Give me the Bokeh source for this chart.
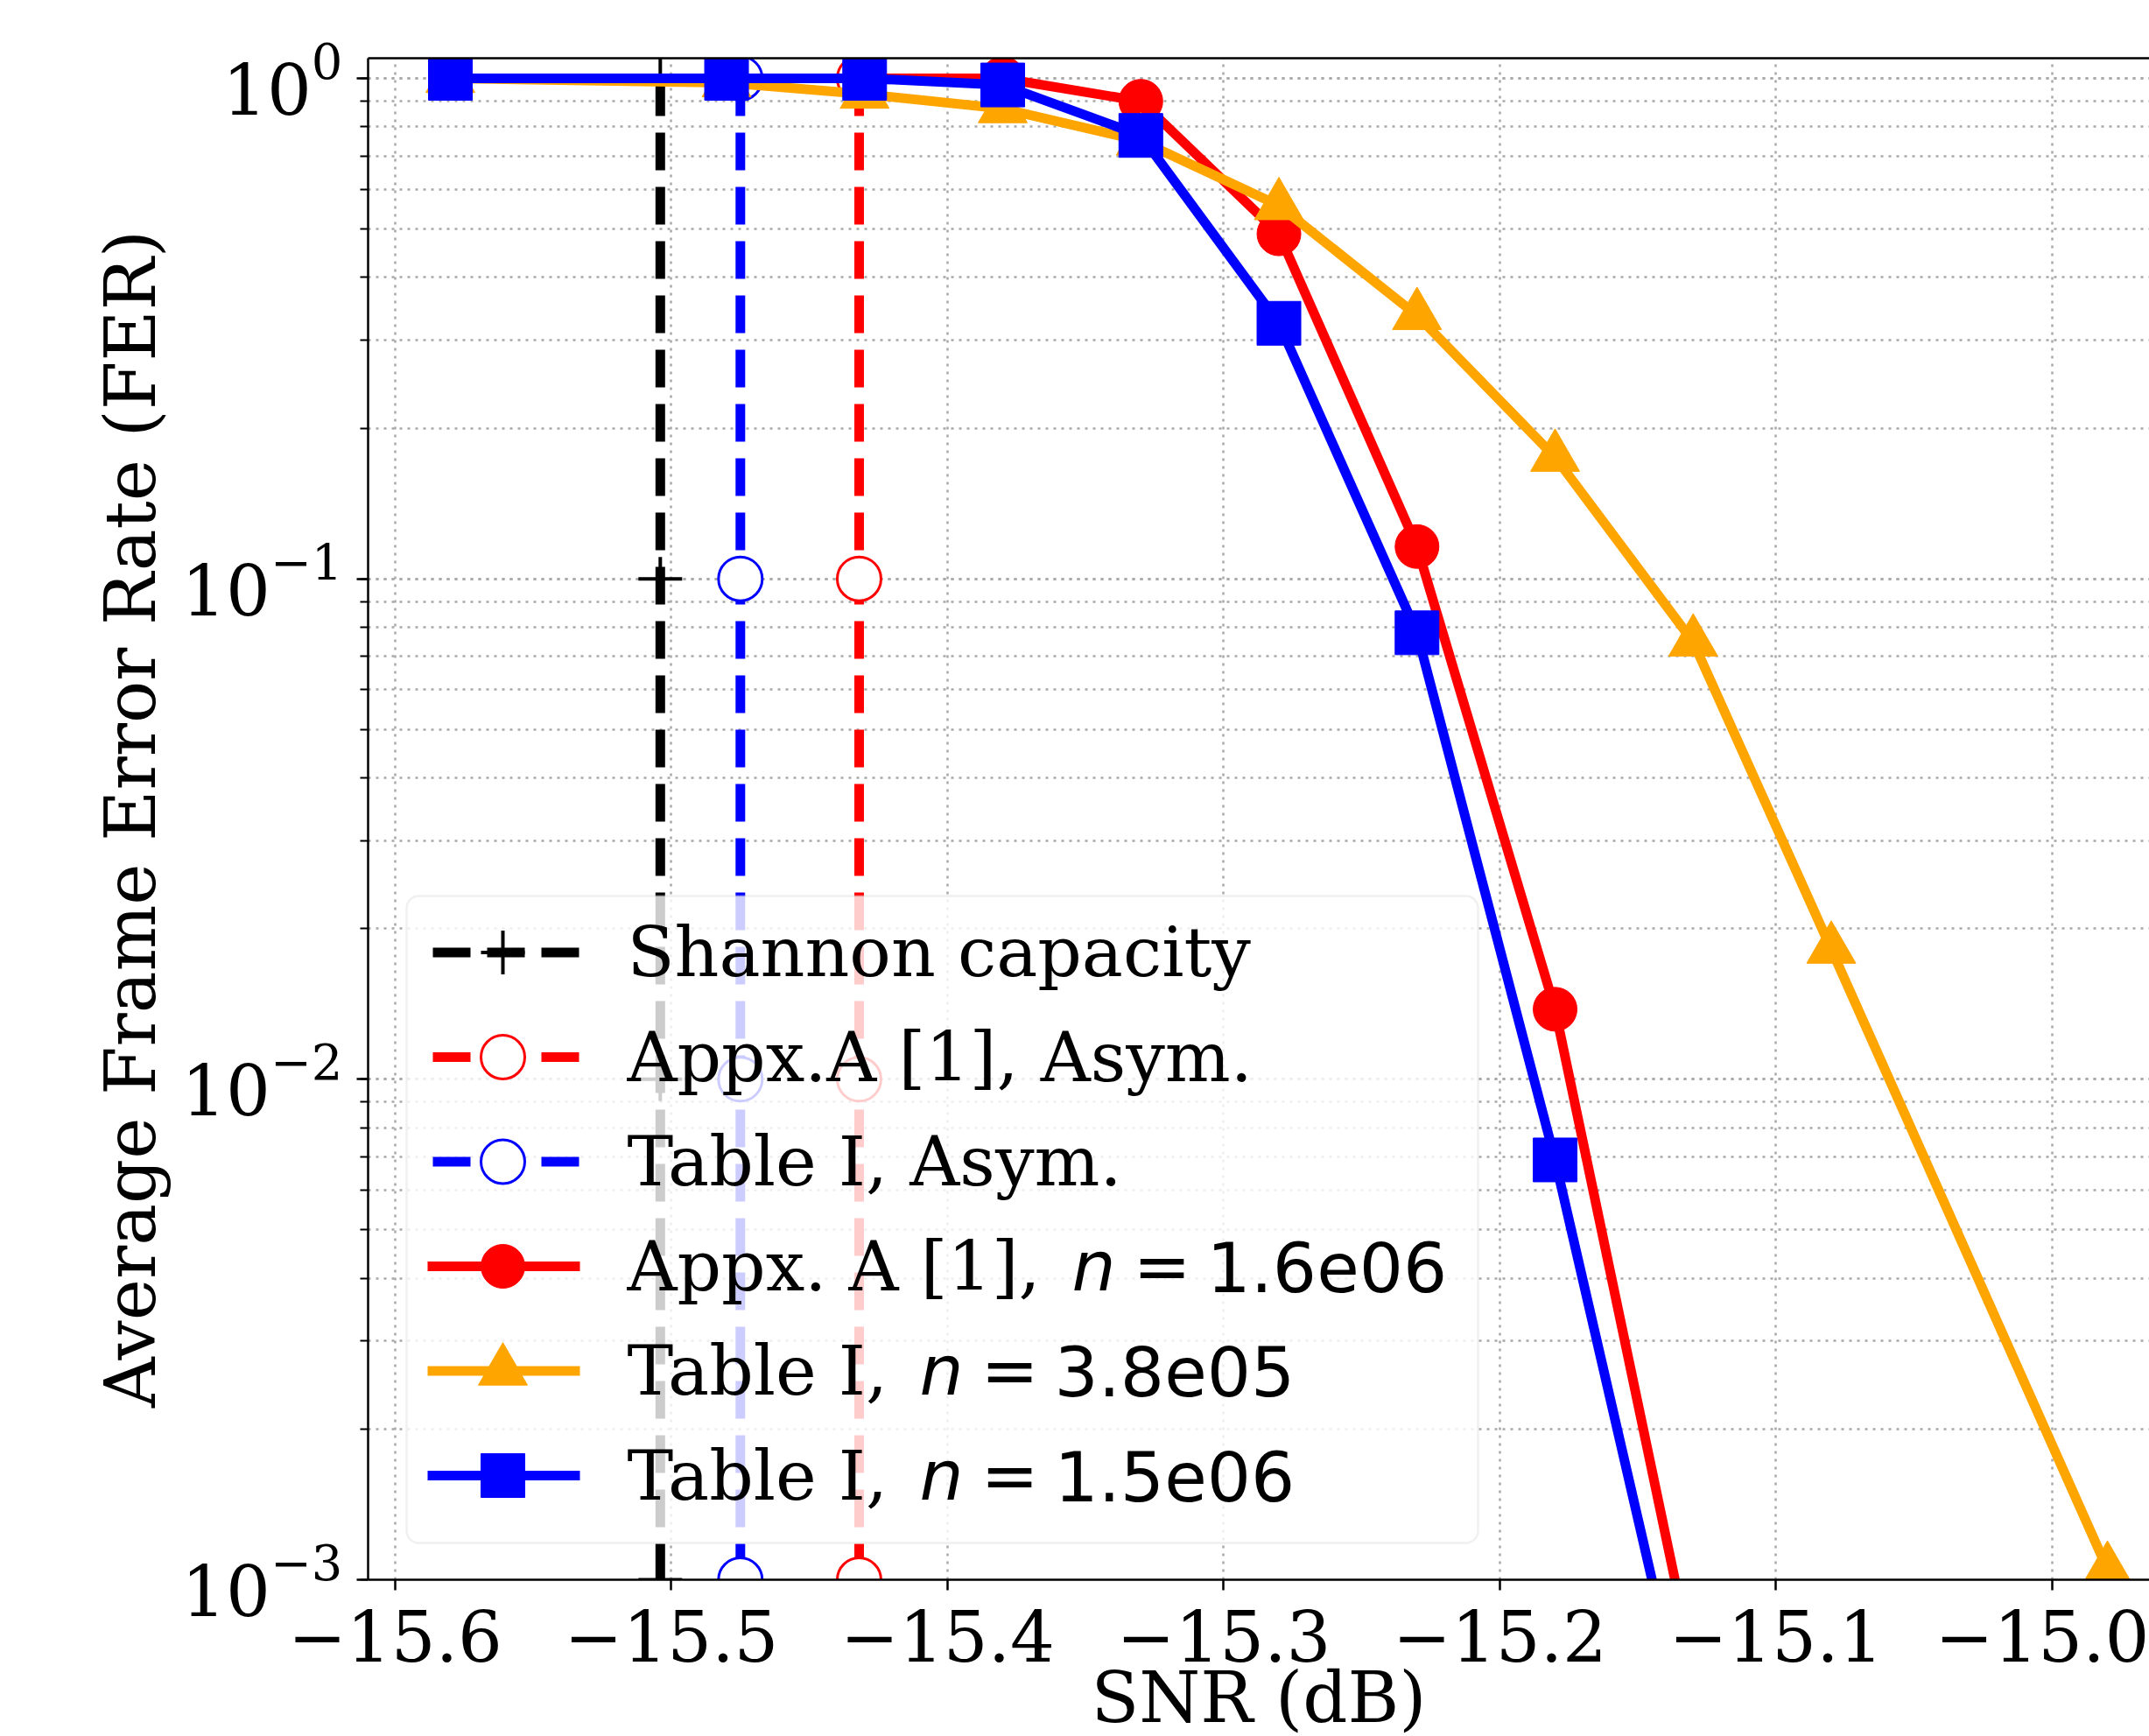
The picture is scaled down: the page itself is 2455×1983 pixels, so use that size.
from bokeh.plotting import figure
from bokeh.models import (Range1d, LinearAxis, FixedTicker, LogTicker, LinearScale,
                          CustomJSTickFormatter, LogTickFormatter, BoxAnnotation)
from bokeh.core.properties import value
from bokeh.embed import file_html
from bokeh.resources import INLINE
try:
    from bokeh.models import GlobalInlineStyleSheet
except Exception:  # pragma: no cover
    GlobalInlineStyleSheet = None

# ---------------- data ----------------
snr = [-15.58, -15.48, -15.43, -15.38, -15.33, -15.28, -15.23, -15.18, -15.13]
fer_appxA_n16e6 = [1.0, 1.0, 1.0, 1.0, 0.90, 0.489, 0.116, 0.0138, 6.7e-4]
fer_tableI_n15e6 = [1.0, 1.0, 1.0, 0.97, 0.769, 0.324, 0.078, 0.0069, 4.4e-4]
snr_n38e5 = [-15.58, -15.48, -15.43, -15.38, -15.33, -15.28, -15.23, -15.18,
             -15.13, -15.08, -14.98]
fer_tableI_n38e5 = [1.0, 0.98, 0.93, 0.87, 0.75, 0.557, 0.336, 0.175,
                    0.0748, 0.0182, 1.05e-3]

shannon_snr = -15.504
appxA_asym_snr = -15.432
tableI_asym_snr = -15.475
vline_fer = [1.0, 0.1, 0.01, 0.001]

x_ticks = [-15.6, -15.5, -15.4, -15.3, -15.2, -15.1, -15.0]
x_start, x_end = -15.6098, -14.9648
y_start, y_end = 1e-3, 1.097

x_label = "SNR (dB)"
y_label = "Average Frame Error Rate (FER)"

legend_rows = [
    [("Shannon capacity", "DejaVu Serif", "normal", 0)],
    [("Appx.A [1], Asym.", "DejaVu Serif", "normal", 0)],
    [("Table I, Asym.", "DejaVu Serif", "normal", 0)],
    [("Appx. A [1], ", "DejaVu Serif", "normal", 0),
     ("n", "DejaVu Sans", "italic", 508), ("=", "DejaVu Sans", "normal", 578),
     ("1.6e06", "DejaVu Sans", "normal", 662)],
    [("Table I, ", "DejaVu Serif", "normal", 0),
     ("n", "DejaVu Sans", "italic", 334), ("=", "DejaVu Sans", "normal", 404),
     ("3.8e05", "DejaVu Sans", "normal", 488)],
    [("Table I, ", "DejaVu Serif", "normal", 0),
     ("n", "DejaVu Sans", "italic", 334), ("=", "DejaVu Sans", "normal", 404),
     ("1.5e06", "DejaVu Sans", "normal", 488)],
]

# ---------------- figure ----------------
FONT = "DejaVu Serif"
FS = "80px"
GRID = "#a8a8a8"

# The original chart is cropped at the right and bottom edges of the picture;
# the canvas is a little taller than the window and the page does not scroll.
p = figure(width=2455, height=2016, x_range=Range1d(x_start, x_end),
           y_range=Range1d(y_start, y_end), y_axis_type="log",
           output_backend="svg", toolbar_location=None,
           min_border_left=420, min_border_right=0, min_border_top=66,
           min_border_bottom=212)
if GlobalInlineStyleSheet is not None:
    p.stylesheets = [GlobalInlineStyleSheet(
        css="html, body { overflow: hidden !important; }")]
p.outline_line_color = None
p.background_fill_color = "white"

# pixel-like helper ranges for the legend box (image pixel coordinates)
p.extra_x_ranges = {"px": Range1d(420, 2455)}
p.extra_y_ranges = {"px": Range1d(1804, 66)}
p.extra_x_scales = {"px": LinearScale()}
p.extra_y_scales = {"px": LinearScale()}

xa = p.xaxis[0]
xa.ticker = FixedTicker(ticks=x_ticks)
xa.formatter = CustomJSTickFormatter(
    code="return (tick < 0 ? '\u2212' : '') + Math.abs(tick).toFixed(1);")
ya = p.yaxis[0]
ya.ticker = LogTicker(num_minor_ticks=10)
ya.formatter = LogTickFormatter()

for ax in (xa, ya):
    ax.axis_line_width = 2.5
    ax.axis_line_color = "black"
    ax.major_tick_line_width = 2.5
    ax.minor_tick_line_width = 2
    ax.major_tick_in = 0
    ax.minor_tick_in = 0
    ax.major_label_text_font = FONT
    ax.major_label_text_font_size = FS
    ax.major_label_text_color = "black"
    ax.axis_label_text_font = FONT
    ax.axis_label_text_font_size = FS
    ax.axis_label_text_font_style = "normal"
    ax.axis_label_text_color = "black"

xa.axis_label = x_label
xa.major_tick_out = 12
xa.minor_tick_line_color = None
xa.major_label_standoff = 22
xa.axis_label_standoff = -8

ya.axis_label = y_label
ya.major_tick_out = 13
ya.minor_tick_out = 9
ya.major_label_standoff = 16
ya.axis_label_standoff = 8

top = LinearAxis(ticker=FixedTicker(ticks=[]), axis_line_width=2.5,
                 axis_line_color="black", major_label_text_font_size="0px")
p.add_layout(top, "above")

p.xgrid[0].ticker = FixedTicker(ticks=x_ticks)
for g in (p.xgrid[0], p.ygrid[0]):
    g.grid_line_color = GRID
    g.grid_line_dash = "3 6"
    g.grid_line_width = 2.5
p.ygrid[0].minor_grid_line_color = GRID
p.ygrid[0].minor_grid_line_dash = "3 6"
p.ygrid[0].minor_grid_line_width = 2.5

LW = 11
DASH = "43 19"
MS = 50

# Shannon capacity
p.line([shannon_snr] * len(vline_fer), vline_fer, line_color="black",
       line_width=LW, line_dash=DASH)
p.scatter([shannon_snr] * len(vline_fer), vline_fer, marker="cross", size=MS,
          line_color="black", line_width=4)
# Appx.A asym
p.line([appxA_asym_snr] * len(vline_fer), vline_fer, line_color="red",
       line_width=LW, line_dash=DASH)
p.scatter([appxA_asym_snr] * len(vline_fer), vline_fer, marker="circle",
          size=MS, fill_color="white", line_color="red", line_width=3)
# Table I asym
p.line([tableI_asym_snr] * len(vline_fer), vline_fer, line_color="blue",
       line_width=LW, line_dash=DASH)
p.scatter([tableI_asym_snr] * len(vline_fer), vline_fer, marker="circle",
          size=MS, fill_color="white", line_color="blue", line_width=3)
# Appx. A n=1.6e06
p.line(snr, fer_appxA_n16e6, line_color="red", line_width=LW, line_join="round")
p.scatter(snr, fer_appxA_n16e6, marker="circle", size=MS, color="red")
# Table I n=3.8e05
p.line(snr_n38e5, fer_tableI_n38e5, line_color="orange", line_width=LW,
       line_join="round")
p.scatter(snr_n38e5, fer_tableI_n38e5, marker="triangle", size=56,
          color="orange")
# Table I n=1.5e06
p.line(snr, fer_tableI_n15e6, line_color="blue", line_width=LW,
       line_join="round")
p.scatter(snr, fer_tableI_n15e6, marker="square", size=MS, color="blue")

# ---------------- legend ----------------
box = BoxAnnotation(left=464, right=1688, top=1023, bottom=1762,
                    x_range_name="px", y_range_name="px",
                    fill_color="white", fill_alpha=0.8, line_color="#cccccc",
                    line_width=2.5, border_radius=14, level="guide")
p.add_layout(box)

row_y0, row_dy = 1087.5, 119.5
handle_specs = [
    ("black", True, "cross"),
    ("red", True, "circle_open"),
    ("blue", True, "circle_open"),
    ("red", False, "circle"),
    ("orange", False, "triangle"),
    ("blue", False, "square"),
]
text_x0 = 716
for i, (col, dashed, mk) in enumerate(handle_specs):
    ry = row_y0 + i * row_dy
    if dashed:
        p.line([494, 661], [ry, ry], line_color=col, line_width=LW,
               line_dash=DASH, x_range_name="px", y_range_name="px",
               level="annotation")
    else:
        p.line([488, 662], [ry, ry], line_color=col, line_width=LW,
               x_range_name="px", y_range_name="px", level="annotation")
    if mk == "cross":
        p.scatter([574], [ry], marker="cross", size=MS, line_color=col,
                  line_width=4, x_range_name="px", y_range_name="px",
                  level="annotation")
    elif mk == "circle_open":
        p.scatter([574], [ry], marker="circle", size=MS, fill_color="white",
                  line_color=col, line_width=3, x_range_name="px",
                  y_range_name="px", level="annotation")
    else:
        p.scatter([574], [ry], marker=mk, size=(56 if mk == "triangle" else MS),
                  color=col, x_range_name="px", y_range_name="px",
                  level="annotation")
    for (txt, font, style, dx) in legend_rows[i]:
        p.text([text_x0 + dx], [ry], text=[txt], text_font=value(font),
               text_font_size="79px", text_font_style=style,
               text_baseline="alphabetic", text_align="left",
               text_color="black", x_range_name="px", y_range_name="px",
               level="annotation")

open("out.html", "w").write(file_html(p, INLINE))
